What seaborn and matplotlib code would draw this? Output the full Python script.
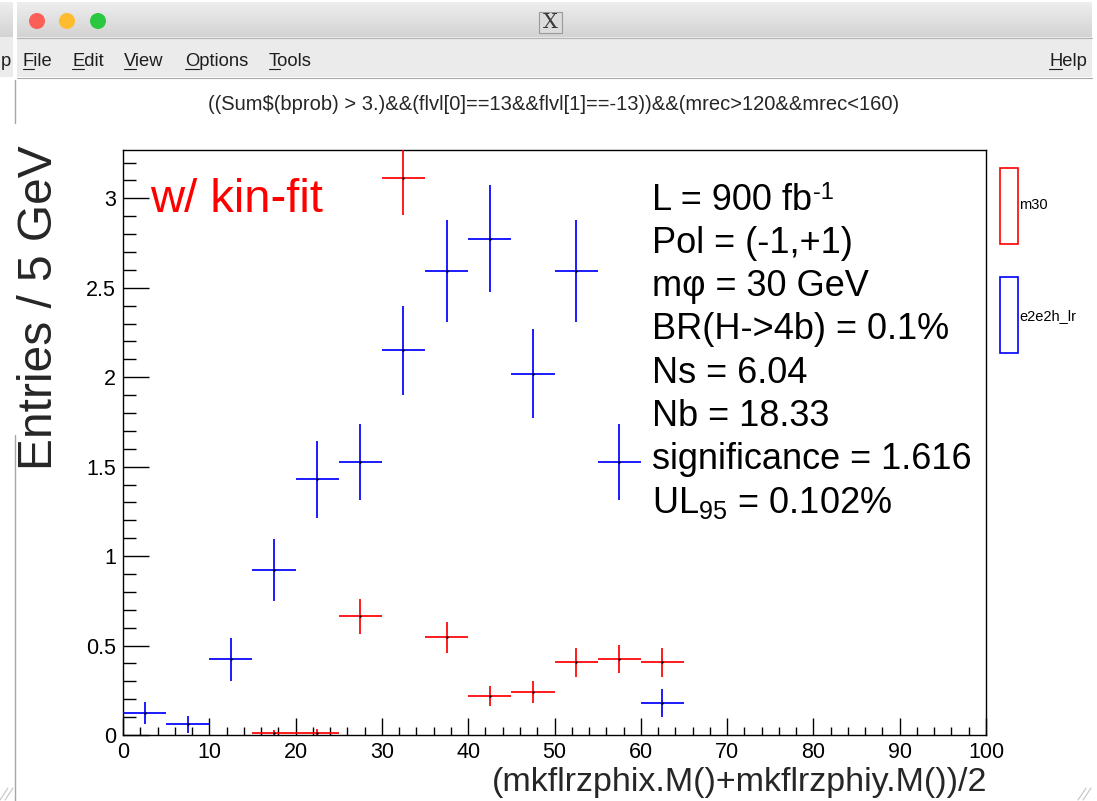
import matplotlib
matplotlib.use("Agg")
import numpy as np
import pandas as pd
import matplotlib.pyplot as plt
import seaborn as sns
from matplotlib.colors import LinearSegmentedColormap
from matplotlib.patches import Rectangle, Circle
from matplotlib.lines import Line2D
from matplotlib.ticker import MultipleLocator, FixedLocator, FuncFormatter

# ---- histogram contents (5 GeV bins) ----
sig_centers = [17.5, 22.5, 27.5, 32.5, 37.5, 42.5, 47.5, 52.5, 57.5, 62.5]
sig_entries = [0.009, 0.011, 0.665, 3.115, 0.546, 0.216, 0.242, 0.406, 0.423, 0.406]
sig_errors = [0.020, 0.020, 0.098, 0.210, 0.088, 0.056, 0.061, 0.081, 0.079, 0.081]

bkg_centers = [2.5, 7.5, 12.5, 17.5, 22.5, 27.5, 32.5, 37.5, 42.5, 47.5, 52.5, 57.5, 62.5]
bkg_entries = [0.123, 0.060, 0.423, 0.920, 1.430, 1.525, 2.150, 2.594, 2.775, 2.020, 2.594, 1.525, 0.180]
bkg_errors = [0.064, 0.047, 0.119, 0.173, 0.215, 0.212, 0.250, 0.284, 0.297, 0.249, 0.284, 0.212, 0.079]

bin_half_width = 2.5
sample_names = ["m30", "e2e2h_lr"]
sample_colors = {"m30": "#ff0000", "e2e2h_lr": "#0000ff"}

x_major_ticks = [0, 10, 20, 30, 40, 50, 60, 70, 80, 90, 100]
y_major_ticks = [0, 0.5, 1, 1.5, 2, 2.5, 3]

cut_title = "((Sum\\$(bprob) > 3.)&&(flvl[0]==13&&flvl[1]==-13))&&(mrec>120&&mrec<160)"
x_title = "(mkflrzphix.M()+mkflrzphiy.M())/2"
y_title = "Entries / 5 GeV"
fit_label = "w/ kin-fit"
lumi_text, lumi_exp = "L = 900 fb", "-1"
info_lines = [
    "Pol = (-1,+1)",
    "m\u03c6 = 30 GeV",
    "BR(H->4b) = 0.1%",
    "Ns = 6.04",
    "Nb = 18.33",
    "significance = 1.616",
    r"UL$_{95}$ = 0.102%",
]
menu_items = ["File", "Edit", "View", "Options", "Tools"]

df = pd.concat([
    pd.DataFrame({"mass": sig_centers, "entries": sig_entries, "err": sig_errors, "sample": "m30"}),
    pd.DataFrame({"mass": bkg_centers, "entries": bkg_entries, "err": bkg_errors, "sample": "e2e2h_lr"}),
], ignore_index=True)

# ---- style ----
sns.set_theme(style="ticks")
plt.rcParams["font.family"] = ["Liberation Sans", "DejaVu Sans"]
plt.rcParams["mathtext.fontset"] = "custom"
plt.rcParams["mathtext.rm"] = "Liberation Sans"
plt.rcParams["mathtext.it"] = "Liberation Sans:italic"
plt.rcParams["mathtext.bf"] = "Liberation Sans:bold"

W, H = 1097, 801
fig = plt.figure(figsize=(W / 100, H / 100), dpi=100)
fig.patch.set_facecolor("white")
renderer = fig.canvas.get_renderer()

# window decoration layer in pixel units
chrome = fig.add_axes([0, 0, 1, 1], zorder=0)
chrome.set_xlim(0, W)
chrome.set_ylim(H, 0)
chrome.axis("off")


def text_width(s, size):
    t = chrome.text(0, 0, s, fontsize=size)
    w = t.get_window_extent(renderer).width
    t.remove()
    return w


bar_cmap = LinearSegmentedColormap.from_list("bar", ["#eeeeee", "#d3d3d3"])
grad = np.linspace(0, 1, 64).reshape(-1, 1)
chrome.imshow(grad, extent=(17, 1092, 37, 2), origin="upper", cmap=bar_cmap, aspect="auto", zorder=1)
chrome.imshow(grad, extent=(0, 13, 37, 2), origin="upper", cmap=bar_cmap, aspect="auto", zorder=1)
chrome.set_xlim(0, W)
chrome.set_ylim(H, 0)
chrome.add_patch(Rectangle((17, 37), 1075, 40, facecolor="#ebebeb", edgecolor="none", zorder=1))
chrome.add_patch(Rectangle((0, 37), 13, 40, facecolor="#ebebeb", edgecolor="none", zorder=1))
chrome.add_line(Line2D([17, 1092], [37.5, 37.5], color="#b4b4b4", lw=0.8, zorder=2))
chrome.add_line(Line2D([17, 1092], [77.5, 77.5], color="#a9a9a9", lw=0.8, zorder=2))

for cx, col in zip([37, 67, 98], ["#fc5f57", "#fdbc2e", "#29c840"]):
    chrome.add_patch(Circle((cx, 21), 8, facecolor=col, edgecolor="none", zorder=3))

chrome.add_patch(Rectangle((538.5, 12), 23, 21, facecolor="#dcdcdc", edgecolor="#9a9a9a", lw=0.8, zorder=3))
chrome.text(550, 23, "X", ha="center", va="center", fontsize=15, family="DejaVu Serif",
            color="#3a3a3a", zorder=4)

menu_size = 13.2
menu_x = [23, 72, 124, 185, 269]
for label, mx in zip(menu_items, menu_x):
    chrome.text(mx, 66, label, ha="left", va="baseline", fontsize=menu_size, color="#1e1e1e", zorder=4)
    w = text_width(label[0], menu_size)
    chrome.add_line(Line2D([mx, mx + w], [69, 69], color="#1e1e1e", lw=0.8, zorder=4))
help_x = 1087 - text_width("Help", menu_size)
chrome.text(help_x, 66, "Help", ha="left", va="baseline", fontsize=menu_size, color="#1e1e1e", zorder=4)
chrome.add_line(Line2D([help_x, help_x + text_width("H", menu_size)], [69, 69],
                       color="#1e1e1e", lw=0.8, zorder=4))
chrome.text(0.5, 66, "p", ha="left", va="baseline", fontsize=menu_size, color="#1e1e1e", zorder=4)

chrome.add_line(Line2D([15, 15], [80, 123], color="#a6a6a6", lw=1.0, zorder=2))
chrome.add_line(Line2D([15, 15], [435, 801], color="#a6a6a6", lw=1.0, zorder=2))
for off in (0, 5):
    chrome.add_line(Line2D([0 + off, 8 + off], [800, 788], color="#c4c4c4", lw=0.8, zorder=2))
    chrome.add_line(Line2D([1078 + off, 1086 + off], [800, 788], color="#c4c4c4", lw=0.8, zorder=2))

# ---- main frame ----
x0, x1, ytop, ybot = 123, 986, 150, 735
ax = fig.add_axes([x0 / W, 1 - ybot / H, (x1 - x0) / W, (ybot - ytop) / H], zorder=1)
ax.set_facecolor("white")

for name in sample_names:
    sub = df[df["sample"] == name]
    ax.errorbar(sub["mass"], sub["entries"], xerr=bin_half_width, yerr=sub["err"],
                fmt="none", ecolor=sample_colors[name], elinewidth=1.25, capsize=0, zorder=3)
sns.scatterplot(data=df, x="mass", y="entries", color="black", s=3, linewidth=0,
                legend=False, ax=ax, zorder=4)

ax.set_xlim(0, 100)
ax.set_ylim(0, 3.27)
ax.xaxis.set_major_locator(FixedLocator(x_major_ticks))
ax.xaxis.set_minor_locator(MultipleLocator(2))
ax.yaxis.set_major_locator(FixedLocator(y_major_ticks))
ax.yaxis.set_minor_locator(MultipleLocator(0.1))
ax.yaxis.set_major_formatter(FuncFormatter(lambda v, p: f"{v:g}"))
ax.xaxis.set_major_formatter(FuncFormatter(lambda v, p: f"{v:g}"))
ax.tick_params(axis="both", which="both", direction="in", top=False, right=False,
               color="black", width=1.0, labelsize=15.5, labelcolor="black")
ax.tick_params(axis="x", which="major", length=12, pad=5)
ax.tick_params(axis="x", which="minor", length=6)
ax.tick_params(axis="y", which="major", length=19, pad=5)
ax.tick_params(axis="y", which="minor", length=9.5)
for sp in ax.spines.values():
    sp.set_visible(True)
    sp.set_color("black")
    sp.set_linewidth(1.0)
ax.grid(False)


def to_ax(px, py):
    return (px - x0) / (x1 - x0), (ybot - py) / (ybot - ytop)


ax.set_xlabel(x_title, fontsize=24.5, ha="right", va="baseline")
ax.xaxis.set_label_coords(*to_ax(987, 791))
ax.set_ylabel(y_title, fontsize=34.5, ha="center", va="center")
ax.yaxis.set_label_coords(*to_ax(40, 308))
tx, ty = to_ax(554, 113)
ax.set_title(cut_title, fontsize=14.5, x=tx, y=ty, va="center", ha="center")

ax.text(150.5, 212.5, fit_label, transform=chrome.transData, color="#ff0000",
        fontsize=34, ha="left", va="baseline", zorder=5)

# statistics block
info_size = 26
info_x = 652.5
first_base = 209.5
line_step = 43.3
ax.text(info_x, first_base, lumi_text, transform=chrome.transData, color="black",
        fontsize=info_size, ha="left", va="baseline", zorder=5)
lumi_w = text_width(lumi_text, info_size)
ax.text(info_x + lumi_w + 1, first_base - 10.5, lumi_exp, transform=chrome.transData,
        color="black", fontsize=17, ha="left", va="baseline", zorder=5)
for i, line in enumerate(info_lines, start=1):
    ax.text(info_x, first_base + i * line_step, line, transform=chrome.transData, color="black",
            fontsize=info_size, ha="left", va="baseline", zorder=5)

# legend boxes outside the frame
for name, top, ly in zip(sample_names, [167.5, 277], [205, 316]):
    chrome.add_patch(Rectangle((999.5, top), 18, 76, facecolor="none",
                               edgecolor=sample_colors[name], lw=1.2, zorder=3))
    chrome.text(1019, ly, name, ha="left", va="center", fontsize=10.5, color="black", zorder=4)

fig.savefig("out.png", dpi=100)
